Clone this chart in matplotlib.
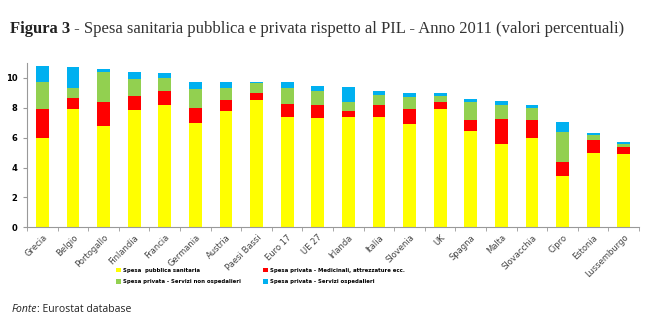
import numpy as np
import matplotlib
matplotlib.use("Agg")
import matplotlib.pyplot as plt

# Data (% of GDP, 2011)
paesi = ["Grecia", "Belgio", "Portogallo", "Finlandia", "Francia", "Germania",
         "Austria", "Paesi Bassi", "Euro 17", "UE 27", "Irlanda", "Italia",
         "Slovenia", "UK", "Spagna", "Malta", "Slovacchia", "Cipro",
         "Estonia", "Lussemburgo"]
pubblica = [6.0, 7.9, 6.8, 7.85, 8.2, 7.0, 7.8, 8.5, 7.4, 7.3,
            7.35, 7.35, 6.9, 7.9, 6.45, 5.55, 5.95, 3.4, 5.0, 4.9]
medicinali = [1.9, 0.75, 1.55, 0.9, 0.95, 1.0, 0.7, 0.45, 0.85, 0.85,
              0.45, 0.8, 1.0, 0.5, 0.7, 1.7, 1.2, 1.0, 0.85, 0.45]
non_ospedalieri = [1.8, 0.7, 2.05, 1.2, 0.85, 1.25, 0.8, 0.7, 1.05, 0.95,
                   0.6, 0.7, 0.8, 0.35, 1.2, 0.95, 0.8, 2.0, 0.35, 0.2]
ospedalieri = [1.1, 1.35, 0.2, 0.45, 0.35, 0.5, 0.4, 0.1, 0.4, 0.35,
               1.0, 0.3, 0.3, 0.2, 0.2, 0.25, 0.25, 0.65, 0.1, 0.15]

colori = ["#FFFF00", "#FF0000", "#92D050", "#00B0F0"]
etichette = ["Spesa  pubblica sanitaria",
             "Spesa privata - Medicinali, attrezzature ecc.",
             "Spesa privata - Servizi non ospedalieri",
             "Spesa privata - Servizi ospedalieri"]

fig = plt.figure(figsize=(6.56, 3.29), dpi=100)
ax = fig.add_axes([0.0412, 0.309, 0.933, 0.5])

x = np.arange(len(paesi))
serie = [pubblica, medicinali, non_ospedalieri, ospedalieri]
bottom = np.zeros(len(paesi))
barre = []
for vals, col, lab in zip(serie, colori, etichette):
    b = ax.bar(x, vals, width=0.42, bottom=bottom, color=col, label=lab)
    barre.append(b)
    bottom += np.array(vals)

ax.set_xlim(-0.5, len(paesi) - 0.5)
ax.set_ylim(0, 11)
ax.set_yticks(np.arange(0, 11, 2))
ax.set_yticklabels([str(v) for v in range(0, 11, 2)], fontsize=6, fontweight="bold")

ax.set_xticks(x)
ax.set_xticklabels(paesi, rotation=45, ha="right", rotation_mode="anchor",
                   fontsize=6, color="#444444")
ax.tick_params(axis="x", length=0, pad=4)
ax.set_xticks(np.arange(-0.5, len(paesi)), minor=True)
ax.tick_params(axis="x", which="minor", length=3, color="#999999")
ax.tick_params(axis="y", length=3, color="#999999", pad=4)

for s in ["top", "right"]:
    ax.spines[s].set_visible(False)
for s in ["left", "bottom"]:
    ax.spines[s].set_color("#999999")

leg_handles = [barre[0], barre[2], barre[1], barre[3]]
leg_labels = [etichette[0], etichette[2], etichette[1], etichette[3]]
fig.legend(leg_handles, leg_labels, ncol=2, loc="center",
           bbox_to_anchor=(0.397, 0.161), frameon=False,
           prop={"size": 3.9, "weight": "bold"},
           handlelength=0.9, handleheight=0.9, handletextpad=0.3,
           columnspacing=4.1, labelspacing=1.2)

# Title
renderer = fig.canvas.get_renderer()
t1 = fig.text(0.015, 0.912, "Figura 3", fontsize=12, fontweight="bold",
              family="Liberation Serif", va="center", color="#222222")
bb = t1.get_window_extent(renderer)
fig.text(bb.x1 / fig.bbox.width, 0.912, " - Spesa sanitaria pubblica e privata rispetto al PIL - Anno 2011 (valori percentuali)",
         fontsize=12, family="Liberation Serif", va="center", color="#333333")

# Source
t2 = fig.text(0.018, 0.06, "Fonte", fontsize=7.5, style="italic",
              family="Open Sans", va="center", color="#222222")
bb2 = t2.get_window_extent(renderer)
fig.text(bb2.x1 / fig.bbox.width, 0.06, ": Eurostat database", fontsize=7.5,
         family="Open Sans", va="center", color="#222222")

fig.savefig("out.png", dpi=100)
